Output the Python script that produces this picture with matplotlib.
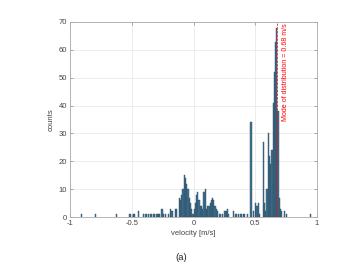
import matplotlib
matplotlib.use('Agg')
from matplotlib import pyplot as plt

# histogram bins (centers, width 0.01 m/s) and counts
centers = [-0.905, -0.795, -0.625, -0.515, -0.485, -0.475, -0.445, -0.405, -0.385,
           -0.365, -0.345, -0.325, -0.315, -0.295, -0.285, -0.275, -0.255, -0.245,
           -0.225, -0.205, -0.185, -0.175, -0.145, -0.135, -0.115, -0.105, -0.095,
           -0.085, -0.075, -0.065, -0.055, -0.045, -0.035, -0.025, -0.015, -0.005,
           0.005, 0.015, 0.025, 0.035, 0.045, 0.055, 0.065, 0.075, 0.085, 0.095,
           0.105, 0.115, 0.125, 0.135, 0.145, 0.155, 0.165, 0.175, 0.185, 0.195,
           0.215, 0.235, 0.255, 0.265, 0.275, 0.285, 0.325, 0.345, 0.365, 0.385,
           0.405, 0.415, 0.435, 0.465, 0.485, 0.505, 0.515, 0.525, 0.535, 0.565,
           0.575, 0.585, 0.595, 0.605, 0.615, 0.625, 0.635, 0.645, 0.655, 0.665,
           0.675, 0.685, 0.695, 0.705, 0.715, 0.735, 0.755, 0.945]
counts = [1, 1, 1, 1, 1, 1, 2, 1, 1,
          1, 1, 1, 1, 1, 1, 1, 3, 1,
          1, 1, 3, 2, 3, 3, 7, 6, 8,
          10, 15, 14, 12, 10, 7, 5, 3, 1,
          3, 5, 8, 9, 6, 4, 4, 3, 9, 10,
          3, 4, 4, 5, 6, 7, 6, 4, 3, 2,
          1, 1, 2, 2, 3, 1, 2, 1, 1, 1,
          1, 1, 1, 34, 2, 5, 4, 5, 1, 27,
          5, 2, 10, 30, 22, 19, 24, 41, 52, 63,
          68, 38, 7, 3, 2, 2, 1, 1]
mode = 0.68
xticks = [-1, -0.5, 0, 0.5, 1]
yticks = [0, 10, 20, 30, 40, 50, 60, 70]

plt.rcParams['font.family'] = ['Liberation Sans', 'DejaVu Sans']

fig = plt.figure(figsize=(3.57, 2.71), dpi=100)
ax = fig.add_axes([70 / 357, 1 - 217 / 271, 247 / 357, 195 / 271])

ax.bar(centers, counts, width=0.01, color='#41718f', edgecolor='#2c4d66',
       linewidth=0.3, zorder=3)
ax.axvline(mode, color='red', ls='--', lw=0.5, zorder=4)
ax.text(mode + 0.033, 69.6, 'Mode of distribution = %.2f m/s' % mode,
        rotation=90, ha='left', va='top', color='red', fontsize=5.1, zorder=5)

ax.set_xlim(-1, 1)
ax.set_ylim(0, 70)
ax.set_xticks(xticks)
ax.set_xticklabels(['-1', '-0.5', '0', '0.5', '1'])
ax.set_yticks(yticks)
ax.grid(True, color='#e6e6e6', lw=0.5, zorder=0)
ax.tick_params(direction='in', length=2, width=0.5, labelsize=5.5, colors='#888888',
               labelcolor='#444444', top=True, right=True, pad=2)
for s in ax.spines.values():
    s.set_color('#aaaaaa')
    s.set_linewidth(0.6)

ax.set_xlabel('velocity [m/s]', fontsize=5.5, color='#444444', labelpad=2)
ax.set_ylabel('counts', fontsize=5.5, color='#444444', labelpad=3)
fig.text(181 / 357, 1 - 258 / 271, '(a)', ha='center', va='center', fontsize=6.8,
         color='#222222')

fig.savefig('out.png', dpi=100)
